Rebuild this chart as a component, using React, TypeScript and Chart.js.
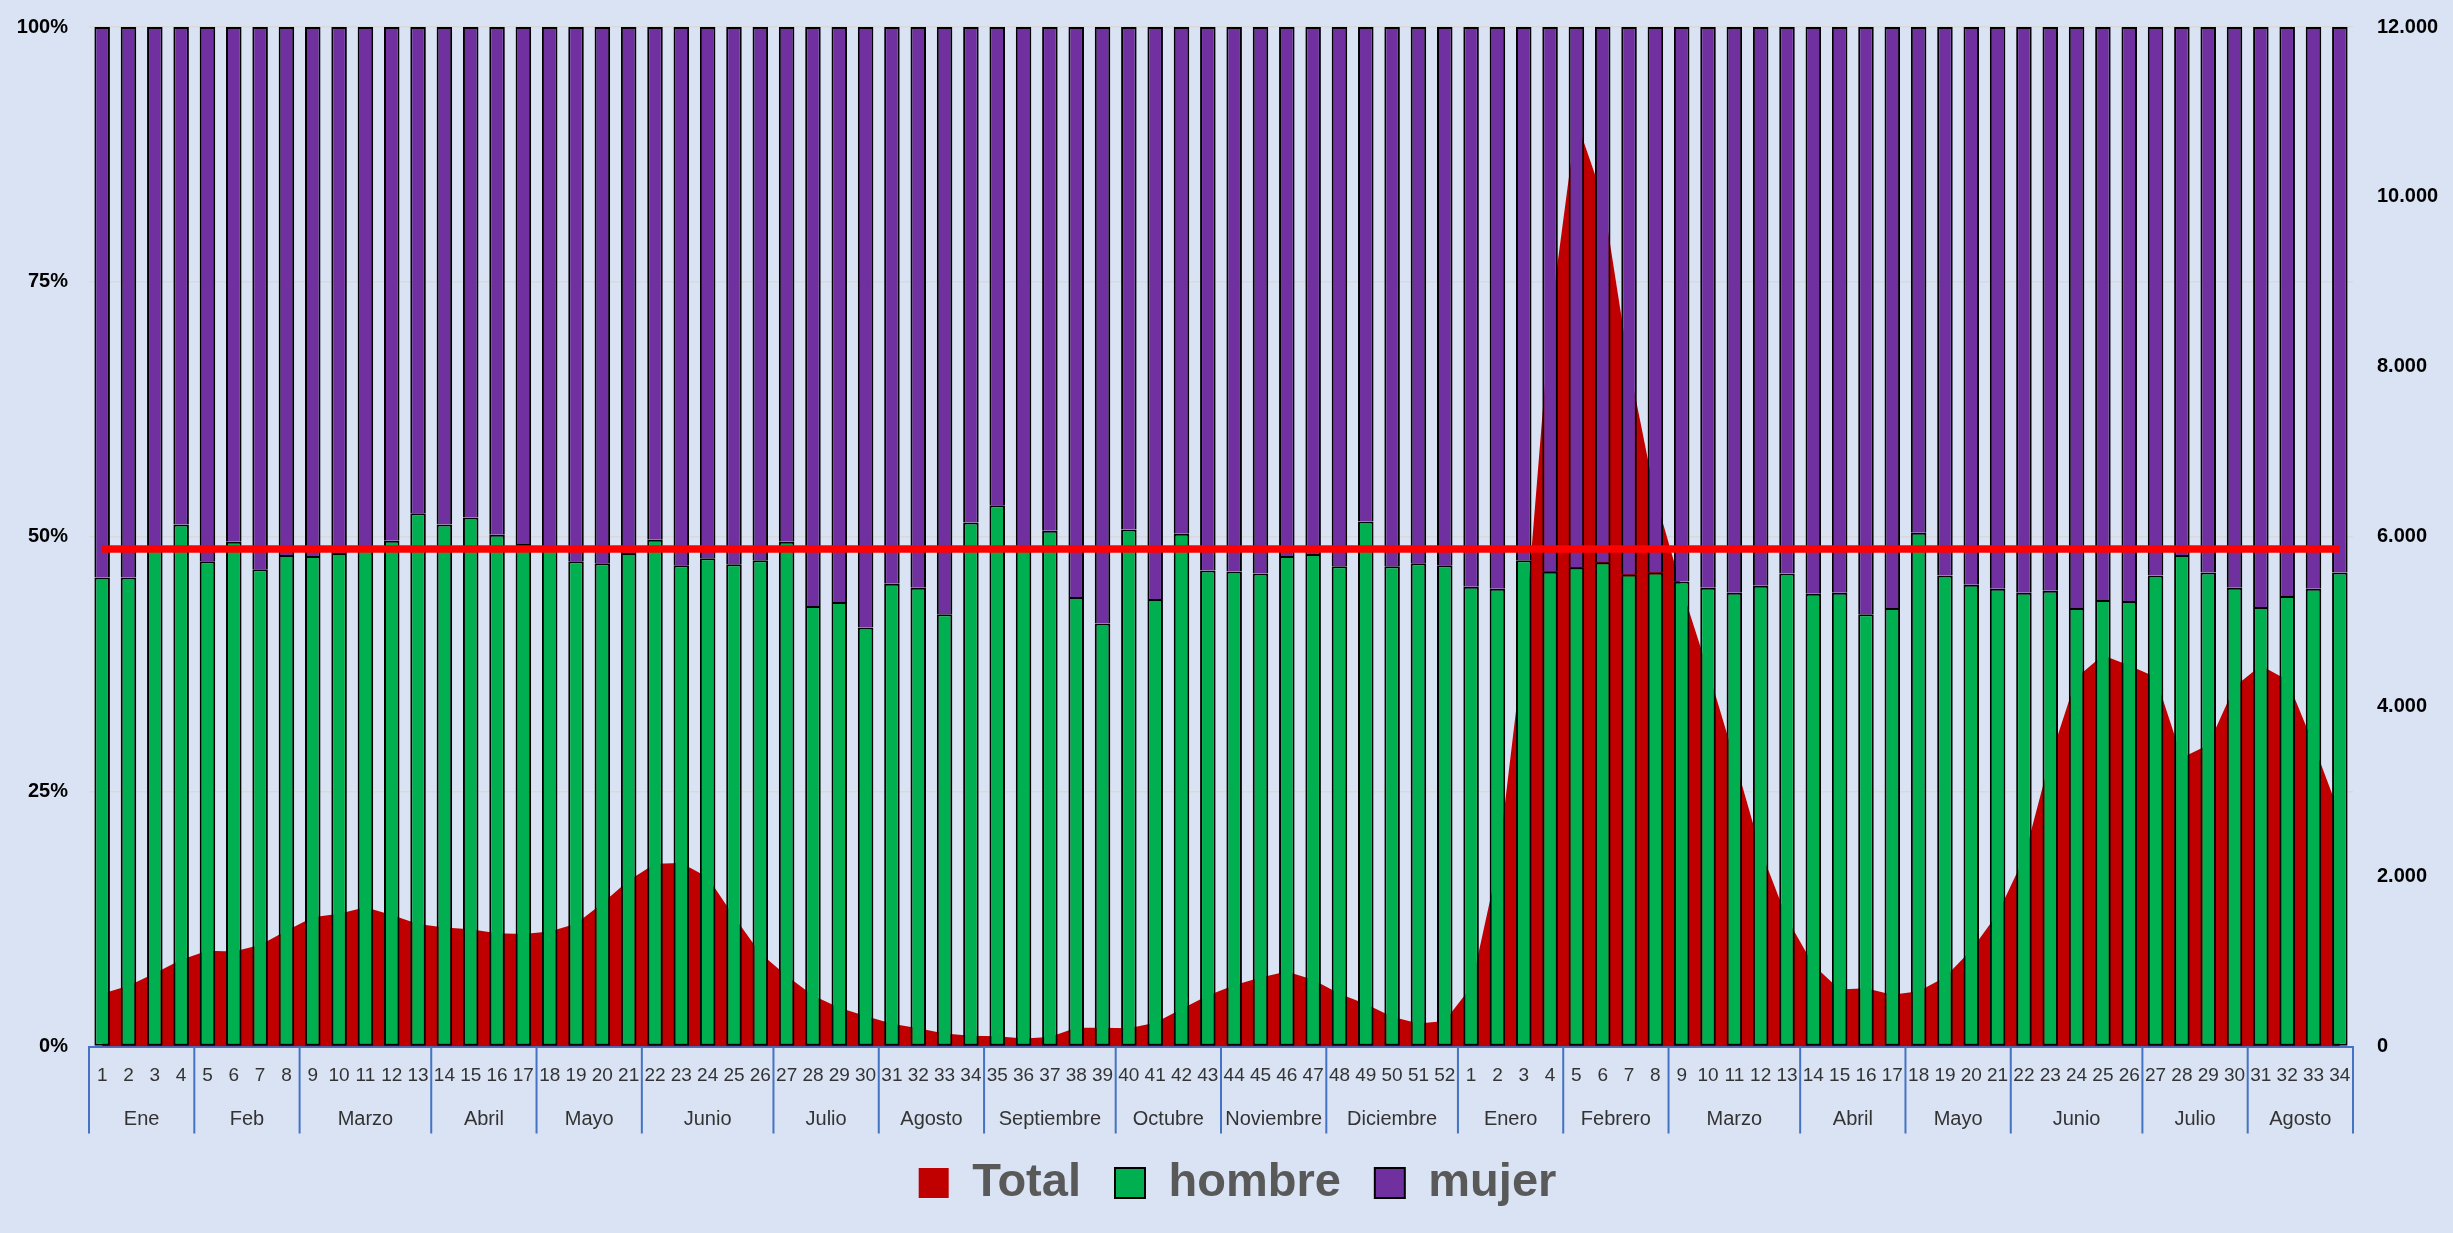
import { useEffect, useRef } from 'react';
import { Chart, registerables } from 'chart.js';

Chart.register(...registerables);

// Semanas epidemiológicas (2020: 1-52, 2021: 1-34)
const semanas = [
  '1', '2', '3', '4', '5', '6', '7', '8', '9', '10', '11', '12', '13', '14', '15', '16', '17', '18', '19', '20',
  '21', '22', '23', '24', '25', '26', '27', '28', '29', '30', '31', '32', '33', '34', '35', '36', '37', '38', '39', '40',
  '41', '42', '43', '44', '45', '46', '47', '48', '49', '50', '51', '52',
  '1', '2', '3', '4', '5', '6', '7', '8', '9', '10', '11', '12', '13', '14', '15', '16', '17', '18', '19', '20',
  '21', '22', '23', '24', '25', '26', '27', '28', '29', '30', '31', '32', '33', '34',
];

const meses = [
  'Ene', 'Feb', 'Marzo', 'Abril', 'Mayo', 'Junio', 'Julio', 'Agosto', 'Septiembre', 'Octubre', 'Noviembre', 'Diciembre',
  'Enero', 'Febrero', 'Marzo', 'Abril', 'Mayo', 'Junio', 'Julio', 'Agosto',
];
const semanasPorMes = [4, 4, 5, 4, 4, 5, 4, 4, 5, 4, 4, 5, 4, 4, 5, 4, 4, 5, 4, 4];

// % hombres
const hombre = [
  46.0, 46.0, 48.9, 51.2, 47.6, 49.5, 46.8, 48.2, 48.1, 48.4,
  48.8, 49.6, 52.3, 51.2, 51.9, 50.2, 49.3, 48.7, 47.6, 47.4,
  48.4, 49.7, 47.2, 47.9, 47.3, 47.7, 49.5, 43.2, 43.6, 41.1,
  45.4, 45.0, 42.4, 51.4, 53.1, 48.9, 50.6, 44.1, 41.5, 50.7,
  43.9, 50.3, 46.7, 46.6, 46.4, 48.1, 48.3, 47.1, 51.5, 47.1,
  47.4, 47.2,
  45.1, 44.9, 47.7, 46.6, 47.0, 47.5, 46.3, 46.5, 45.6, 45.0,
  44.5, 45.2, 46.4, 44.4, 44.5, 42.4, 43.0, 50.4, 46.2, 45.3,
  44.9, 44.5, 44.7, 43.0, 43.8, 43.7, 46.2, 48.2, 46.5, 45.0,
  43.1, 44.2, 44.9, 46.5,
];

// % mujeres
const mujer = [
  54.0, 54.0, 51.1, 48.8, 52.4, 50.5, 53.2, 51.8, 51.9, 51.6,
  51.2, 50.4, 47.7, 48.8, 48.1, 49.8, 50.7, 51.3, 52.4, 52.6,
  51.6, 50.3, 52.8, 52.1, 52.7, 52.3, 50.5, 56.8, 56.4, 58.9,
  54.6, 55.0, 57.6, 48.6, 46.9, 51.1, 49.4, 55.9, 58.5, 49.3,
  56.1, 49.7, 53.3, 53.4, 53.6, 51.9, 51.7, 52.9, 48.5, 52.9,
  52.6, 52.8,
  54.9, 55.1, 52.3, 53.4, 53.0, 52.5, 53.7, 53.5, 54.4, 55.0,
  55.5, 54.8, 53.6, 55.6, 55.5, 57.6, 57.0, 49.6, 53.8, 54.7,
  55.1, 55.5, 55.3, 57.0, 56.2, 56.3, 53.8, 51.8, 53.5, 55.0,
  56.9, 55.8, 55.1, 53.5,
];

// Total de casos por semana (eje derecho)
const total = [
  620, 716, 863, 1020, 1128, 1118, 1196, 1363, 1520, 1563,
  1640, 1549, 1441, 1402, 1379, 1332, 1324, 1353, 1446, 1687,
  1955, 2150, 2160, 1991, 1529, 1099, 834, 599, 455, 358,
  269, 216, 152, 128, 120, 94, 112, 222, 222, 216,
  279, 441, 599, 722, 812, 883, 785, 622, 500, 350,
  271, 300,
  700, 2120, 4715, 8550, 10900, 10000, 8020, 6470, 5395, 4428,
  3394, 2311, 1506, 958, 672, 687, 608, 651, 815, 1135,
  1563, 2219, 3394, 4342, 4606, 4485, 4349, 3400, 3550, 4235,
  4485, 4314, 3559, 2732,
];

// Línea de referencia (% hombres promedio)
const promedioHombre = 48.8;

const FONT = "'Liberation Sans', Arial, sans-serif";

function miles(v: number): string {
  const s = Math.round(v).toString();
  return s.replace(/\B(?=(\d{3})+(?!\d))/g, '.');
}

const monthAxisPlugin = {
  id: 'monthAxis',
  afterLayout(chart: any) {
    if (chart.legend) {
      chart.legend.left += 6;
      chart.legend.right += 6;
    }
  },
  afterDraw(chart: any) {
    const xs = chart.scales.x;
    const ctx = chart.ctx;
    const y0 = chart.chartArea.bottom;
    const step = xs.getPixelForValue(1) - xs.getPixelForValue(0);
    ctx.save();
    ctx.fillStyle = '#333333';
    ctx.font = `20px ${FONT}`;
    ctx.textAlign = 'center';
    ctx.textBaseline = 'middle';
    const edges: number[] = [xs.getPixelForValue(0) - step / 2];
    let start = 0;
    meses.forEach((m, i) => {
      const n = semanasPorMes[i];
      const left = xs.getPixelForValue(start) - step / 2;
      const right = xs.getPixelForValue(start + n - 1) + step / 2;
      ctx.fillText(m, (left + right) / 2, y0 + 73);
      edges.push(right);
      start += n;
    });
    ctx.strokeStyle = '#4472C4';
    ctx.lineWidth = 2;
    edges.forEach((x) => {
      ctx.beginPath();
      ctx.moveTo(x, y0);
      ctx.lineTo(x, y0 + 87);
      ctx.stroke();
    });
    ctx.restore();
  },
};

const fixVerticalPadding = (s: any) => {
  s.paddingTop = 12;
  s.paddingBottom = 12;
};

export default function App() {
  const ref = useRef<HTMLCanvasElement | null>(null);

  useEffect(() => {
    document.body.style.margin = '0';
    const canvas = ref.current;
    if (!canvas) return;
    Chart.defaults.font.family = FONT;

    const chart = new Chart(canvas, {
      type: 'bar',
      data: {
        labels: semanas,
        datasets: [
          {
            type: 'line',
            label: 'Total',
            data: total,
            yAxisID: 'y2',
            backgroundColor: '#C00000',
            borderColor: '#C00000',
            borderWidth: 0,
            pointRadius: 0,
            fill: 'origin',
            tension: 0,
            order: 10,
          } as any,
          {
            type: 'bar',
            label: 'hombre',
            data: hombre,
            yAxisID: 'y',
            stack: 's',
            backgroundColor: '#00B050',
            borderColor: '#000000',
            borderWidth: 2,
            borderSkipped: false,
            barPercentage: 0.59,
            categoryPercentage: 1,
            order: 5,
          } as any,
          {
            type: 'bar',
            label: 'mujer',
            data: mujer,
            yAxisID: 'y',
            stack: 's',
            backgroundColor: '#7030A0',
            borderColor: '#000000',
            borderWidth: 2,
            borderSkipped: 'start',
            barPercentage: 0.59,
            categoryPercentage: 1,
            order: 5,
          } as any,
          {
            type: 'line',
            label: 'promedio',
            data: semanas.map(() => promedioHombre),
            yAxisID: 'y',
            borderColor: '#FF0000',
            backgroundColor: '#FF0000',
            borderWidth: 7.5,
            pointRadius: 0,
            fill: false,
            order: 0,
          } as any,
        ],
      },
      options: {
        responsive: false,
        animation: false,
        events: [],
        layout: { padding: { left: 10, right: 0, top: 27, bottom: 16.5 } },
        plugins: {
          tooltip: { enabled: false },
          legend: {
            display: true,
            position: 'bottom',
            labels: {
              boxWidth: 30,
              boxHeight: 30,
              padding: 34,
              color: '#595959',
              font: { family: FONT, size: 47, weight: 'bold' },
              filter: (item: any) => item.text !== 'promedio',
              sort: (a: any, b: any) => a.datasetIndex - b.datasetIndex,
            },
          },
        },
        scales: {
          x: {
            offset: true,
            grid: { display: false, drawTicks: false },
            border: { display: true, color: '#4472C4', width: 2 },
            ticks: {
              autoSkip: false,
              maxRotation: 0,
              minRotation: 0,
              padding: 18,
              color: '#333333',
              font: { family: FONT, size: 19 },
            },
            afterFit: (s: any) => {
              s.height = 79;
            },
          },
          y: {
            position: 'left',
            stacked: true,
            min: 0,
            max: 100,
            grid: { color: '#D9D9D9', lineWidth: 1.5, drawTicks: false },
            border: { display: false },
            ticks: {
              stepSize: 25,
              padding: 21,
              color: '#000000',
              font: { family: FONT, size: 20, weight: 'bold' },
              callback: (v: any) => `${v}%`,
            },
            afterFit: (s: any) => {
              s.width = 79;
              fixVerticalPadding(s);
            },
          },
          y2: {
            position: 'right',
            min: 0,
            max: 12000,
            grid: { display: false, drawTicks: false },
            border: { display: false },
            ticks: {
              stepSize: 2000,
              padding: 24,
              color: '#000000',
              font: { family: FONT, size: 20, weight: 'bold' },
              callback: (v: any) => miles(Number(v)),
            },
            afterFit: (s: any) => {
              s.width = 100;
              fixVerticalPadding(s);
            },
          },
        },
      } as any,
      plugins: [monthAxisPlugin],
    });

    return () => {
      chart.destroy();
    };
  }, []);

  return (
    <div
      style={{
        position: 'absolute',
        left: 0,
        top: 0,
        width: 2453,
        height: 1233,
        background: '#DAE3F3',
      }}
    >
      <canvas ref={ref} width={2453} height={1233} style={{ display: 'block' }} />
    </div>
  );
}
